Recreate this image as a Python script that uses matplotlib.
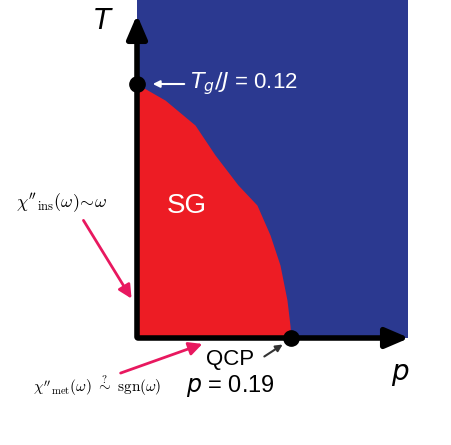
import numpy as np
import matplotlib.pyplot as plt

plt.rcParams['font.family'] = ['Liberation Sans', 'DejaVu Sans']

# pixel -> data scale
sx = 0.19 / 154
sy = 0.12 / 254
def px(x, y):
    return ((x - 137) * sx, (338 - y) * sy)

# phase boundary of the spin-glass region
p_bound = [0, 0.0346, 0.0716, 0.0962, 0.1246, 0.1480, 0.1641, 0.1764, 0.1850, 0.1887, 0.19]
T_bound = [0.12, 0.1124, 0.1006, 0.0865, 0.0723, 0.0628, 0.0487, 0.0345, 0.0180, 0.0061, 0.0]
Tg = 0.12
p_qcp = 0.19
p_max, T_max = 0.334, 0.1597

fig = plt.figure(figsize=(4.52, 4.45), dpi=100)
ax = fig.add_axes([0, 0, 1, 1])
ax.set_xlim(px(0, 0)[0], px(452, 0)[0])
ax.set_ylim(px(0, 445)[1], px(0, 0)[1])
ax.axis("off")

ax.fill_between([0, p_max], 0, T_max, color="#2b3990", lw=0)
ax.fill_between(p_bound, 0, T_bound, color="#ed1c24", lw=0)

# axes with arrows
lw = 4
ax.annotate("", xy=px(137, 12), xytext=px(137, 340),
            arrowprops=dict(arrowstyle="-|>,head_width=0.6,head_length=1.4", lw=lw, color="black"))
ax.annotate("", xy=px(412, 338), xytext=px(135, 338),
            arrowprops=dict(arrowstyle="-|>,head_width=0.6,head_length=1.4", lw=lw, color="black"))
ax.text(*px(103, 22), "$T$", fontsize=20, ha="center", va="center")
ax.text(*px(400, 375), "$p$", fontsize=20, ha="center", va="center")

ax.plot([0, p_qcp], [Tg, 0], "o", color="black", ms=11, clip_on=False, zorder=5)

ax.annotate("", xy=px(150, 84), xytext=px(187, 84),
            arrowprops=dict(arrowstyle="-|>", lw=1.5, color="white"))
ax.text(*px(190, 84), "$T_g/J$ = 0.12", color="white", fontsize=16, va="center")
ax.text(*px(187, 206), "SG", color="white", fontsize=20, ha="center", va="center")

pink = "#e8185f"
ax.annotate("", xy=px(133, 301), xytext=px(82, 218),
            arrowprops=dict(arrowstyle="-|>,head_width=0.4,head_length=0.8", lw=2, color=pink))
ax.annotate("", xy=px(205, 343), xytext=px(118, 374),
            arrowprops=dict(arrowstyle="-|>,head_width=0.4,head_length=0.8", lw=2, color=pink))
ax.text(*px(62, 203), r"$\chi''_{\rm ins}(\omega)\!\sim\!\omega$", fontsize=13,
        ha="center", va="center", math_fontfamily="cm")
ax.text(*px(97, 386), r"$\chi''_{\rm met}(\omega)\ \overset{?}{\sim}\ {\rm sgn}(\omega)$",
        fontsize=11, ha="center", va="center", math_fontfamily="cm")

ax.annotate("", xy=px(285, 343), xytext=px(262, 358),
            arrowprops=dict(arrowstyle="-|>", lw=1.5, color="#333333"))
ax.text(*px(230, 360), "QCP", fontsize=16, ha="center", va="center")
ax.text(*px(230, 386), "$p$ = 0.19", fontsize=17, ha="center", va="center")

fig.savefig("out.png", dpi=100)
